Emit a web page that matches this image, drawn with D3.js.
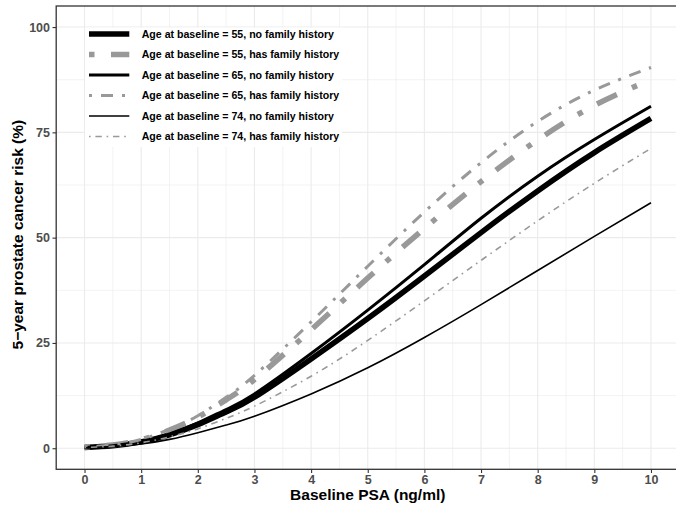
<!DOCTYPE html>
<html>
<head>
<meta charset="utf-8">
<script src="https://cdn.jsdelivr.net/npm/d3@7"></script>
<style>
  html, body { margin: 0; padding: 0; background: #fff; }
  svg { display: block; font-family: "Liberation Sans", Arial, Helvetica, sans-serif; }
</style>
</head>
<body>
<svg id="chart" width="676" height="505"></svg>
<script>
// Baseline PSA values (ng/ml) at which each risk curve is sampled
const psa = [0, 0.5, 1, 1.5, 2, 2.5, 3, 4, 5, 6, 7, 8, 9, 10];

// 5-year prostate cancer risk (%) for each baseline age / family history group
const risk55NoFH  = [0.2, 0.6, 1.5, 3.2, 5.6, 8.6, 12.1, 21.2, 30.8, 40.9, 51.2, 61.1, 70.2, 78.3];
const risk55FH    = [0.3, 0.8, 2.0, 4.3, 7.4, 11.5, 16.3, 28.1, 40.4, 52.2, 63.3, 73.2, 81.4, 87.5];
const risk65NoFH  = [0.2, 0.6, 1.6, 3.4, 6.0, 9.2, 12.9, 22.5, 32.8, 43.6, 54.6, 64.6, 73.3, 81.2];
const risk65FH    = [0.3, 0.8, 2.1, 4.5, 7.7, 12.1, 17.3, 30.0, 43.2, 56.1, 67.8, 77.6, 85.0, 90.4];
const risk74NoFH  = [0.1, 0.4, 1.0, 2.1, 3.7, 5.5, 7.6, 12.9, 19.1, 26.3, 34.1, 42.2, 50.3, 58.3];
const risk74FH    = [0.2, 0.5, 1.3, 2.7, 4.6, 7.1, 10.0, 17.1, 25.6, 35.0, 44.6, 54.0, 62.9, 71.2];

const seriesLabels = [
  "Age at baseline = 55, no family history",
  "Age at baseline = 55, has family history",
  "Age at baseline = 65, no family history",
  "Age at baseline = 65, has family history",
  "Age at baseline = 74, no family history",
  "Age at baseline = 74, has family history"
];
const seriesAges = [55, 55, 65, 65, 74, 74];
const seriesValues = [risk55NoFH, risk55FH, risk65NoFH, risk65FH, risk74NoFH, risk74FH];

const xTicks = [0, 1, 2, 3, 4, 5, 6, 7, 8, 9, 10];
const yTicks = [0, 25, 50, 75, 100];
const xTitle = "Baseline PSA (ng/ml)";
const yTitle = "5\u2212year prostate cancer risk (%)";

// Styling per series: line width by age, colour and dot-dash by family history
const widths = { 55: 5.5, 65: 3.0, 74: 1.6 };
const seriesStyle = seriesLabels.map((lab, i) => {
  const w = widths[seriesAges[i]];
  const fh = i % 2 === 1;
  return {
    width: w,
    color: fh ? "#999999" : "#000000",
    dash: fh ? [w, 3 * w, 4 * w, 3 * w].join(",") : null
  };
});

const svg = d3.select("#chart");
const panel = { left: 56.2, right: 679.3, top: 6, bottom: 469.3 };

const x = d3.scaleLinear().domain([-0.5, 10.5]).range([panel.left, panel.right]);
const y = d3.scaleLinear().domain([-5, 105]).range([panel.bottom, panel.top]);

// Panel background
svg.append("rect")
  .attr("x", panel.left).attr("y", panel.top)
  .attr("width", panel.right - panel.left).attr("height", panel.bottom - panel.top)
  .attr("fill", "#fff");

const grid = svg.append("g");
// Minor grid lines
d3.range(0.5, 10.5, 1).forEach(v => {
  grid.append("line").attr("x1", x(v)).attr("x2", x(v))
    .attr("y1", panel.top).attr("y2", panel.bottom)
    .attr("stroke", "#EBEBEB").attr("stroke-width", 0.6);
});
d3.range(12.5, 100, 25).forEach(v => {
  grid.append("line").attr("y1", y(v)).attr("y2", y(v))
    .attr("x1", panel.left).attr("x2", panel.right)
    .attr("stroke", "#EBEBEB").attr("stroke-width", 0.6);
});
// Major grid lines
xTicks.forEach(v => {
  grid.append("line").attr("x1", x(v)).attr("x2", x(v))
    .attr("y1", panel.top).attr("y2", panel.bottom)
    .attr("stroke", "#EBEBEB").attr("stroke-width", 1.1);
});
yTicks.forEach(v => {
  grid.append("line").attr("y1", y(v)).attr("y2", y(v))
    .attr("x1", panel.left).attr("x2", panel.right)
    .attr("stroke", "#EBEBEB").attr("stroke-width", 1.1);
});

// Risk curves
const line = d3.line()
  .x(d => x(d[0]))
  .y(d => y(d[1]))
  .curve(d3.curveNatural);

const curves = svg.append("g");
seriesValues.forEach((vals, i) => {
  const st = seriesStyle[i];
  curves.append("path")
    .datum(psa.map((p, j) => [p, vals[j]]))
    .attr("d", line)
    .attr("fill", "none")
    .attr("stroke", st.color)
    .attr("stroke-width", st.width)
    .attr("stroke-dasharray", st.dash)
    .attr("stroke-linecap", "butt");
});

// Legend inside the panel
const legend = svg.append("g");
legend.append("rect")
  .attr("x", 85).attr("y", 27.6)
  .attr("width", 257).attr("height", 119.5)
  .attr("fill", "#fff");
seriesLabels.forEach((lab, i) => {
  const st = seriesStyle[i];
  const cy = 34 + i * 20.5;
  legend.append("line")
    .attr("x1", 89).attr("x2", 129.3)
    .attr("y1", cy).attr("y2", cy)
    .attr("stroke", st.color)
    .attr("stroke-width", st.width)
    .attr("stroke-dasharray", st.dash)
    .attr("stroke-linecap", "butt");
  legend.append("text")
    .attr("x", 141.7).attr("y", cy)
    .attr("dy", "0.36em")
    .attr("font-size", 10.6)
    .attr("font-weight", "bold")
    .attr("fill", "#000")
    .text(lab);
});

// Panel border
svg.append("rect")
  .attr("x", panel.left).attr("y", panel.top)
  .attr("width", panel.right - panel.left).attr("height", panel.bottom - panel.top)
  .attr("fill", "none").attr("stroke", "#333333").attr("stroke-width", 1.3);

// Axes
const xAxis = d3.axisBottom(x).tickValues(xTicks).tickSize(3.7).tickPadding(2.5).tickFormat(d3.format("d"));
const yAxis = d3.axisLeft(y).tickValues(yTicks).tickSize(3.7).tickPadding(2.5).tickFormat(d3.format("d"));

const gx = svg.append("g").attr("transform", `translate(0,${panel.bottom})`).call(xAxis);
const gy = svg.append("g").attr("transform", `translate(${panel.left},0)`).call(yAxis);
[gx, gy].forEach(g => {
  g.select(".domain").remove();
  g.selectAll(".tick line").attr("stroke", "#333333").attr("stroke-width", 1.1);
  g.selectAll(".tick text")
    .attr("fill", "#4D4D4D")
    .attr("font-size", 12.5)
    .attr("font-weight", "bold")
    .attr("font-family", "Liberation Sans, Arial, sans-serif");
});

// Axis titles
svg.append("text")
  .attr("x", (panel.left + panel.right) / 2)
  .attr("y", 500)
  .attr("text-anchor", "middle")
  .attr("font-size", 15.5)
  .attr("font-weight", "bold")
  .attr("fill", "#000")
  .text(xTitle);

svg.append("text")
  .attr("transform", `translate(23,${(panel.top + panel.bottom) / 2 - 3}) rotate(-90)`)
  .attr("text-anchor", "middle")
  .attr("font-size", 15.5)
  .attr("font-weight", "bold")
  .attr("fill", "#000")
  .text(yTitle);
</script>
</body>
</html>
